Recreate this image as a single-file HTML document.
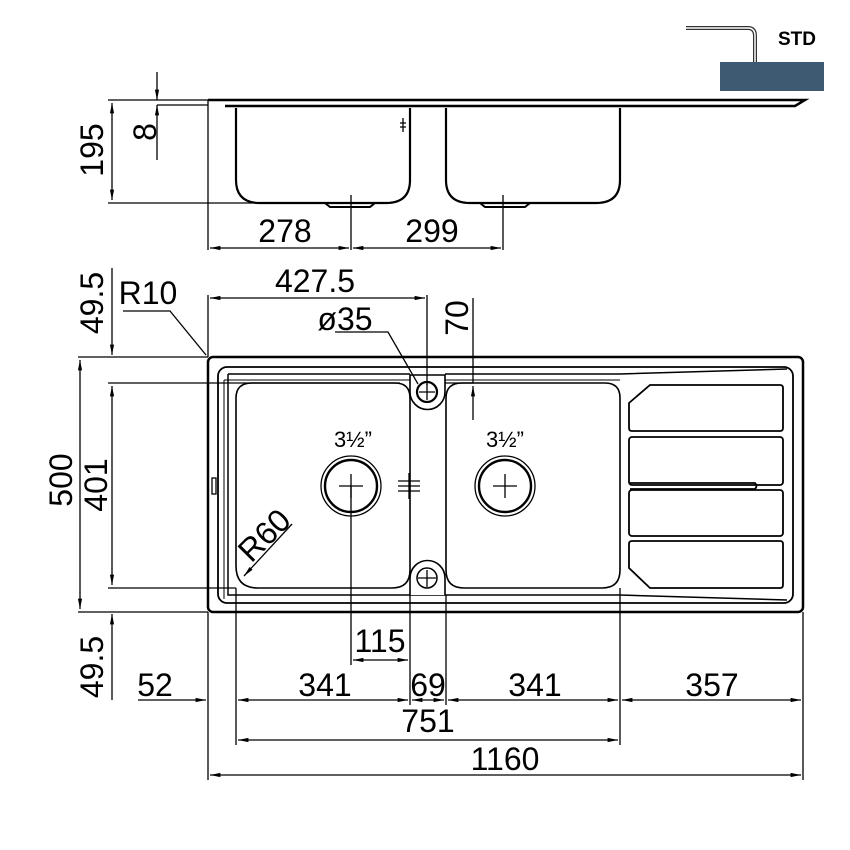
<!DOCTYPE html>
<html><head><style>body{margin:0;background:#fff}svg{display:block}</style></head><body>
<svg width="850" height="850" viewBox="0 0 850 850" xmlns="http://www.w3.org/2000/svg" font-family="Liberation Sans, sans-serif">
<defs>
<marker id="a" viewBox="0 0 10 10" refX="10" refY="5" markerWidth="8" markerHeight="8" orient="auto-start-reverse"><path d="M0,3 L10,5 L0,7z" fill="#000"/></marker>
</defs>
<g stroke="#000" fill="none" stroke-width="1.3">
<!-- STD -->
<path d="M686,28 H748 Q755,28 755,36 V62" stroke-width="4" stroke="#333"/>
<path d="M686,28 H748 Q755,28 755,36 V62" stroke-width="1.5" stroke="#fff"/>
<rect x="720" y="62" width="104" height="29" fill="#3d5a72" stroke="none"/>
<!-- elevation -->
<path d="M208,100 H805 L795,106 H225" stroke-width="2.5"/>
<line x1="208" y1="100" x2="208" y2="250"/>
<path d="M236,108 V180 Q236,203 260,203 H386 Q410,203 410,180 V108" stroke-width="2.2"/>
<path d="M446,108 V180 Q446,203 470,203 H596 Q620,203 620,180 V108" stroke-width="2.2"/>
<path d="M325,203 l5,4 h40 l5,-4 M480,203 l5,4 h40 l5,-4" stroke-width="2"/>
<path d="M403,118 V132 M400,123 h6 M400,127 h6"/>
<line x1="108" y1="100" x2="208" y2="100"/>
<line x1="108" y1="203" x2="260" y2="203"/>
<line x1="112" y1="103" x2="112" y2="200" marker-start="url(#a)" marker-end="url(#a)"/>
<line x1="157" y1="72" x2="157" y2="100" marker-end="url(#a)"/>
<line x1="157" y1="160" x2="157" y2="105" marker-end="url(#a)"/>
<line x1="157" y1="105" x2="208" y2="105"/>
<line x1="351" y1="195" x2="351" y2="250"/>
<line x1="503" y1="195" x2="503" y2="250"/>
<line x1="210" y1="248" x2="349" y2="248" marker-start="url(#a)" marker-end="url(#a)"/>
<line x1="353" y1="248" x2="501" y2="248" marker-start="url(#a)" marker-end="url(#a)"/>
<!-- plan -->
<rect x="208" y="357" width="595" height="255" rx="5" stroke-width="2.5"/>
<rect x="218" y="367" width="575" height="236" rx="9" stroke-width="1.8"/>
<path d="M228,374 H410 M228,374 V595 H620 M445,374 H620 L787,369 M620,595 L787,600" stroke-width="1.5"/>
<path d="M224,380 H410 M445,380 H620 M224,380 V599" stroke-width="1"/>
<path d="M252,383 H395 Q410,383 410,398 V570 Q410,588 392,588 H258 Q236,588 236,566 V398 Q236,383 252,383Z" stroke-width="1.6"/>
<path d="M462,383 H605 Q620,383 620,398 V570 Q620,588 602,588 H464 Q446,588 446,570 V398 Q446,383 462,383Z" stroke-width="1.6"/>
<path d="M410,375 H445 V392 A17,17 0 0 1 410,392Z" stroke-width="1.6" fill="#fff"/>
<circle cx="427" cy="392" r="10" stroke-width="2.2"/>
<path d="M427,384 V400 M419,392 H435"/>
<path d="M410,595 V578 A17,17 0 0 1 445,578 V595" stroke-width="1.6" fill="#fff"/>
<circle cx="427" cy="578" r="10" stroke-width="1.5"/>
<path d="M427,570 V587 M418,578 H436"/>
<circle cx="351" cy="486" r="30"/><circle cx="351" cy="486" r="26" stroke-width="2.4"/>
<circle cx="505" cy="486" r="30"/><circle cx="505" cy="486" r="26" stroke-width="2.4"/>
<path d="M339,486 h24 M351,474 v24 M493,486 h24 M505,474 v24"/>
<path d="M398,481 h22 M398,486 h22 M398,491 h22 M409,473 v26"/>
<rect x="212" y="478" width="4" height="16"/>
<!-- drainer -->
<g stroke-width="1.8">
<path d="M650,385 H780 Q783,385 783,388 V428 Q783,431 780,431 H632 Q629,431 629,428 V403Z"/>
<rect x="629" y="437" width="154" height="48" rx="3"/>
<rect x="629" y="490" width="154" height="46" rx="3"/>
<path d="M632,541 H780 Q783,541 783,544 V585 Q783,588 780,588 H650 L629,568 V544 Q629,541 632,541Z"/>
<path d="M630,483 H755 Q758,486 755,489 H630"/>
</g>
<!-- plan dims -->
<line x1="78" y1="357" x2="208" y2="357"/>
<line x1="78" y1="612" x2="208" y2="612"/>
<line x1="108" y1="383" x2="400" y2="383"/>
<line x1="108" y1="588" x2="236" y2="588"/>
<line x1="80" y1="360" x2="80" y2="609" marker-start="url(#a)" marker-end="url(#a)"/>
<line x1="112" y1="386" x2="112" y2="585" marker-start="url(#a)" marker-end="url(#a)"/>
<line x1="112" y1="268" x2="112" y2="355" marker-end="url(#a)"/>
<line x1="112" y1="700" x2="112" y2="614" marker-end="url(#a)"/>
<line x1="208" y1="295" x2="208" y2="357"/>
<line x1="427" y1="295" x2="427" y2="385"/>
<line x1="210" y1="298" x2="425" y2="298" marker-start="url(#a)" marker-end="url(#a)"/>
<line x1="473" y1="298" x2="473" y2="383"/>
<line x1="473" y1="383" x2="445" y2="383"/>
<line x1="473" y1="420" x2="473" y2="386" marker-end="url(#a)"/>
<path d="M123,311 H170 L206,355"/>
<path d="M335,332 H388 L418,384"/>
<line x1="244" y1="576" x2="292" y2="524" marker-start="url(#a)"/>
<line x1="208" y1="612" x2="208" y2="780"/>
<line x1="803" y1="612" x2="803" y2="780"/>
<line x1="236" y1="588" x2="236" y2="745"/>
<line x1="620" y1="588" x2="620" y2="745"/>
<line x1="410" y1="595" x2="410" y2="705"/>
<line x1="446" y1="595" x2="446" y2="705"/>
<line x1="351" y1="486" x2="351" y2="665"/>
<line x1="138" y1="700" x2="206" y2="700" marker-end="url(#a)"/>
<line x1="238" y1="700" x2="408" y2="700" marker-start="url(#a)" marker-end="url(#a)"/>
<line x1="412" y1="700" x2="444" y2="700" marker-start="url(#a)" marker-end="url(#a)"/>
<line x1="448" y1="700" x2="618" y2="700" marker-start="url(#a)" marker-end="url(#a)"/>
<line x1="622" y1="700" x2="801" y2="700" marker-start="url(#a)" marker-end="url(#a)"/>
<line x1="353" y1="660" x2="408" y2="660" marker-start="url(#a)" marker-end="url(#a)"/>
<line x1="238" y1="740" x2="618" y2="740" marker-start="url(#a)" marker-end="url(#a)"/>
<line x1="210" y1="775" x2="801" y2="775" marker-start="url(#a)" marker-end="url(#a)"/>
</g>
<g font-size="32" fill="#000" text-anchor="middle">
<text x="797" y="45" font-size="19" font-weight="bold">STD</text>
<text x="285" y="242">278</text>
<text x="432" y="242">299</text>
<text transform="translate(103,150) rotate(-90)">195</text>
<text transform="translate(156,132) rotate(-90)">8</text>
<text x="315" y="292">427.5</text>
<text x="148" y="304">R10</text>
<text x="345" y="330">ø35</text>
<text transform="translate(468,318) rotate(-90)">70</text>
<text transform="translate(103,303) rotate(-90)">49.5</text>
<text transform="translate(72,480) rotate(-90)">500</text>
<text transform="translate(107,485) rotate(-90)">401</text>
<text transform="translate(103,667) rotate(-90)">49.5</text>
<text transform="translate(272,543) rotate(-45)">R60</text>
<text x="353" y="447" font-size="22">3½”</text>
<text x="505" y="447" font-size="22">3½”</text>
<text x="380" y="652">115</text>
<text x="155" y="696">52</text>
<text x="325" y="696">341</text>
<text x="428" y="696">69</text>
<text x="535" y="696">341</text>
<text x="712" y="696">357</text>
<text x="428" y="732">751</text>
<text x="505" y="770">1160</text>
</g>
</svg>
</body></html>
